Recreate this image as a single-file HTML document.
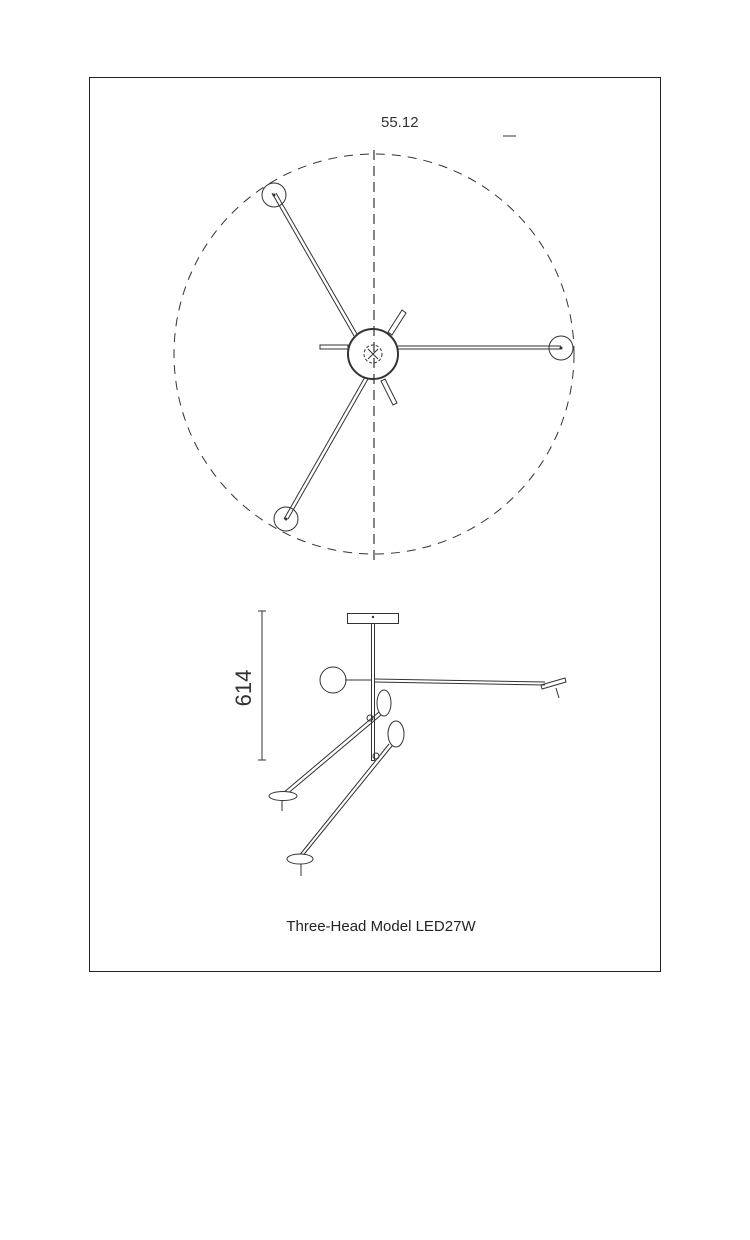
<!DOCTYPE html>
<html><head><style>body{margin:0;background:#fff}svg{display:block}</style></head><body>
<svg width="750" height="1240" viewBox="0 0 750 1240" xmlns="http://www.w3.org/2000/svg" font-family="Liberation Sans, sans-serif">
<rect x="89.5" y="77.5" width="571" height="894" fill="none" stroke="#222" stroke-width="1"/>
<text x="381" y="127" font-size="15" fill="#333">55.12</text>
<line x1="503" y1="136" x2="516" y2="136" stroke="#333"/>
<circle cx="374" cy="354" r="200" fill="none" stroke="#333" stroke-width="1" stroke-dasharray="9,7"/>
<line x1="374" y1="150" x2="374" y2="562" stroke="#333" stroke-width="1.2" stroke-dasharray="10,6"/>
<g stroke="#333" stroke-width="1" fill="none">
<line x1="272" y1="193" x2="354" y2="336"/><line x1="276" y1="193" x2="357" y2="334"/>
<line x1="398" y1="346" x2="561" y2="346"/><line x1="398" y1="349" x2="561" y2="349"/>
<line x1="284" y1="519" x2="365" y2="377"/><line x1="288" y1="519" x2="368" y2="379"/>
<polygon points="388,332 402,310 406,313 392,335"/>
<rect x="320" y="345" width="28" height="4"/>
<polygon points="381,381 393,405 397,403 385,379"/>
<circle cx="274" cy="195" r="12"/><circle cx="561" cy="348" r="12"/><circle cx="286" cy="519" r="12"/>
<circle cx="373" cy="354" r="25" stroke-width="2"/>
<circle cx="373" cy="354" r="9" stroke-dasharray="3,2"/>
<path d="M368 349 L378 359 M368 359 L378 349"/>
</g>
<circle cx="274" cy="195" r="1.5" fill="#333"/><circle cx="561" cy="348" r="1.5" fill="#333"/><circle cx="286" cy="519" r="1.5" fill="#333"/>
<g stroke="#333" stroke-width="1" fill="none">
<line x1="262" y1="611" x2="262" y2="760"/><line x1="258" y1="611" x2="266" y2="611"/><line x1="258" y1="760" x2="266" y2="760"/>
<rect x="347.5" y="613.5" width="51" height="10" fill="#fff"/>
<rect x="371.5" y="623.5" width="3" height="137"/>
<circle cx="333" cy="680" r="13"/>
<line x1="345" y1="680" x2="371" y2="680"/>
<line x1="375" y1="679" x2="545" y2="682"/><line x1="375" y1="682" x2="545" y2="685"/>
<polygon points="541,685 565,678 566,682 542,689"/>
<line x1="556" y1="688" x2="559" y2="698"/>
<ellipse cx="384" cy="703" rx="7" ry="13"/>
<line x1="379" y1="712" x2="283" y2="793"/><line x1="381" y1="715" x2="286" y2="795"/>
<ellipse cx="283" cy="796" rx="14" ry="4.5" fill="#fff"/>
<line x1="282" y1="800" x2="282" y2="811"/>
<ellipse cx="396" cy="734" rx="8" ry="13"/>
<line x1="389" y1="744" x2="298" y2="857"/><line x1="392" y1="746" x2="301" y2="858"/>
<ellipse cx="300" cy="859" rx="13" ry="5" fill="#fff"/>
<line x1="301" y1="864" x2="301" y2="876"/>
<circle cx="370" cy="718" r="3"/><circle cx="376" cy="756" r="3"/>
</g>
<circle cx="373" cy="617" r="1.2" fill="#333"/>
<text transform="translate(251,688) rotate(-90)" font-size="22" fill="#333" text-anchor="middle">614</text>
<text x="381" y="931" font-size="15" fill="#222" text-anchor="middle">Three-Head Model LED27W</text>
</svg>
</body></html>
